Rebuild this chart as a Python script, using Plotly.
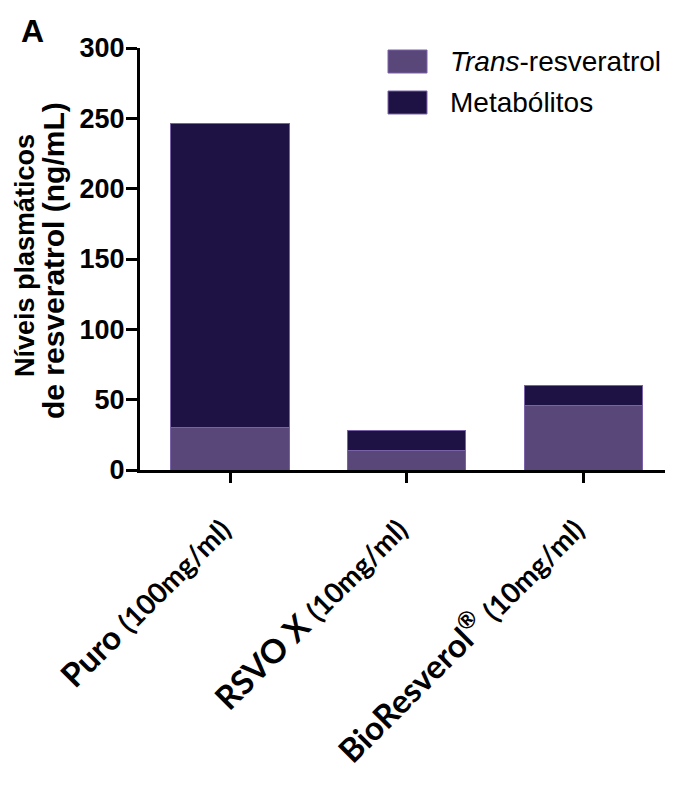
import plotly.graph_objects as go

categories = ["Puro", "RSVO X", "BioResverol"]
tick_labels = [
    "<b>Puro</b> <b><span style='font-size:28px'>(100mg/ml)</span></b>",
    "<b>RSVO X</b> <b><span style='font-size:28px'>(10mg/ml)</span></b>",
    "<b>BioResverol<sup>®</sup></b> <b><span style='font-size:28px'>(10mg/ml)</span></b>",
]
series_names = ["<i>Trans</i>-resveratrol", "Metabólitos"]
trans_values = [30, 14, 46]
metab_values = [216, 14, 14]
y_ticks = [0, 50, 100, 150, 200, 250, 300]

trans_color = "#5a4779"
metab_color = "#1e1144"
edge_color = "#7a62a8"

x_pos = list(range(len(categories)))

# the page body has an 8px margin; work in page pixel coordinates
OFF = 8
FIG_W, FIG_H = 673 - OFF, 787 - OFF
# plot area in page pixels: x 140..670, y 48..470
L, R, T, B = 140, 670, 48, 470
W, H = R - L, B - T


def px(x):
    return (x - L) / W


def py(y):
    return (B - y) / H


fig = go.Figure()
fig.add_trace(go.Bar(
    x=x_pos, y=trans_values, name=series_names[0],
    marker=dict(color=trans_color, line=dict(color=edge_color, width=1)),
    width=0.67, showlegend=False,
))
fig.add_trace(go.Bar(
    x=x_pos, y=metab_values, name=series_names[1],
    marker=dict(color=metab_color, line=dict(color=edge_color, width=1)),
    width=0.67, showlegend=False,
))

fig.update_layout(
    barmode="stack",
    width=FIG_W, height=FIG_H,
    margin=dict(l=L - OFF, r=FIG_W - (R - OFF), t=T - OFF, b=FIG_H - (B - OFF)),
    plot_bgcolor="white", paper_bgcolor="white",
    font=dict(family="Liberation Sans, Arial", color="black"),
    xaxis=dict(
        range=[-0.51, 2.49],
        tickmode="array", tickvals=x_pos, ticktext=tick_labels,
        tickangle=-45,
        tickfont=dict(family="Lato, Open Sans", size=33, color="black"),
        ticklabelstandoff=14, ticklabelshift=-9,
        showline=True, linecolor="black", linewidth=3,
        ticks="outside", ticklen=10, tickwidth=3, tickcolor="black",
        showgrid=False, zeroline=False,
    ),
    yaxis=dict(
        range=[0, 300],
        tickmode="array", tickvals=y_ticks,
        tickfont=dict(size=27, family="Liberation Sans, Arial", weight="bold"),
        ticklabelstandoff=-4,
        showline=True, linecolor="black", linewidth=3,
        ticks="outside", ticklen=11, tickwidth=3, tickcolor="black",
        showgrid=False, zeroline=False,
    ),
)

# y-axis title (two lines)
fig.add_annotation(text="<b>Níveis plasmáticos</b>", xref="paper", yref="paper",
                   x=px(25), y=py(256), xanchor="center", yanchor="middle",
                   textangle=-90, showarrow=False, font=dict(size=27))
fig.add_annotation(text="<b>de resveratrol (ng/mL)</b>", xref="paper", yref="paper",
                   x=px(54), y=py(261), xanchor="center", yanchor="middle",
                   textangle=-90, showarrow=False, font=dict(size=30))

# panel label
fig.add_annotation(text="<b>A</b>", xref="paper", yref="paper",
                   x=px(19), y=py(11), xanchor="left", yanchor="top",
                   showarrow=False, font=dict(size=32))

# legend
legend_rows = [(series_names[0], trans_color, 50, 73), (series_names[1], metab_color, 91, 114)]
for name, color, y0, y1 in legend_rows:
    fig.add_shape(type="rect", xref="paper", yref="paper",
                  x0=px(388), x1=px(427), y0=py(y1), y1=py(y0),
                  fillcolor=color, line=dict(color=edge_color, width=1))
    fig.add_annotation(text=name, xref="paper", yref="paper",
                       x=px(448), y=py((y0 + y1) / 2), xanchor="left", yanchor="middle",
                       showarrow=False, font=dict(size=28))

fig.write_html("out.html")
